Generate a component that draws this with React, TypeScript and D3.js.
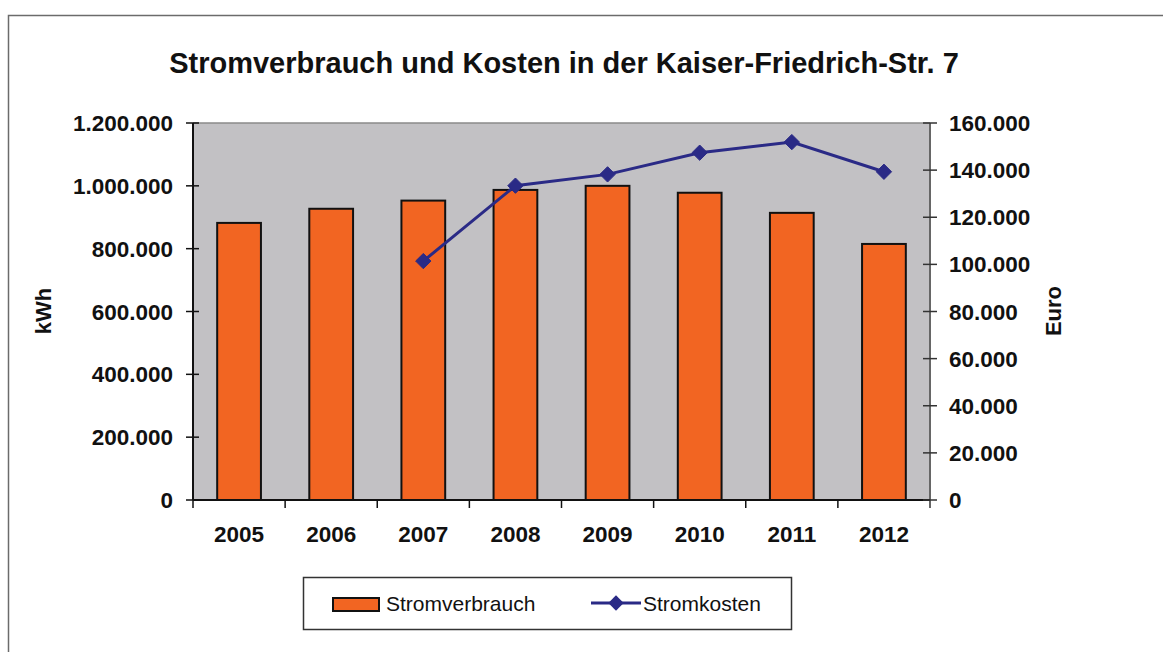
import * as d3 from 'd3'

const years = ['2005', '2006', '2007', '2008', '2009', '2010', '2011', '2012']
const stromverbrauch = [882000, 927000, 953000, 987000, 1000000, 978000, 914000, 815000]
const stromkosten: (number | null)[] = [null, null, 101400, 133400, 138200, 147400, 151900, 139300]
const kwhTicks = [0, 200000, 400000, 600000, 800000, 1000000, 1200000]
const euroTicks = [0, 20000, 40000, 60000, 80000, 100000, 120000, 140000, 160000]

const W = 1163
const H = 652
const plot = { left: 193, top: 123, right: 930, bottom: 500 }
const font = 'Arial, "Liberation Sans", sans-serif'
const fmt = (v: number) => d3.format(',')(v).replace(/,/g, '.')

export default function App() {
  const x = d3.scaleBand().domain(years).range([plot.left, plot.right]).paddingInner(0.525).paddingOuter(0.2625)
  const xb = d3.scaleBand().domain(years).range([plot.left, plot.right])
  const yL = d3.scaleLinear().domain([0, 1200000]).range([plot.bottom, plot.top])
  const yR = d3.scaleLinear().domain([0, 160000]).range([plot.bottom, plot.top])

  const linePts = years
    .map((yr, i) => ({ yr, v: stromkosten[i] }))
    .filter(d => d.v != null) as { yr: string; v: number }[]
  const line = d3.line<{ yr: string; v: number }>()
    .x(d => (xb(d.yr) ?? 0) + xb.bandwidth() / 2)
    .y(d => yR(d.v))

  const diamond = d3.symbol().type(d3.symbolDiamond2).size(150)()
  const navy = '#2a2a86'
  const orange = '#f26522'

  return (
    <svg width={W} height={H} style={{ position: 'absolute', left: 0, top: 0, background: '#fff' }} fontFamily={font}>
      <rect x={8.5} y={15.5} width={W} height={H} fill="#fff" stroke="#6b6b6b" strokeWidth={1.5} />
      <text x={564} y={73} textAnchor="middle" fontSize={29} fontWeight="bold" fill="#111">
        Stromverbrauch und Kosten in der Kaiser-Friedrich-Str. 7
      </text>

      <rect x={plot.left} y={plot.top} width={plot.right - plot.left} height={plot.bottom - plot.top} fill="#c2c1c4" />
      <line x1={plot.left} x2={plot.right} y1={plot.top} y2={plot.top} stroke="#8a8a8a" strokeWidth={1.5} />

      {years.map((yr, i) => (
        <rect
          key={yr}
          x={x(yr)}
          y={yL(stromverbrauch[i])}
          width={x.bandwidth()}
          height={plot.bottom - yL(stromverbrauch[i])}
          fill={orange}
          stroke="#111"
          strokeWidth={2}
        />
      ))}

      {/* axes */}
      <line x1={plot.left} x2={plot.left} y1={plot.top} y2={plot.bottom} stroke="#111" strokeWidth={2} />
      <line x1={plot.right} x2={plot.right} y1={plot.top} y2={plot.bottom + 8} stroke="#666" strokeWidth={2} />
      <line x1={plot.left} x2={plot.right} y1={plot.bottom} y2={plot.bottom} stroke="#111" strokeWidth={2} />

      {kwhTicks.map(t => (
        <g key={t}>
          <line x1={plot.left - 7} x2={plot.left + 6} y1={yL(t)} y2={yL(t)} stroke="#111" strokeWidth={1.5} />
          <text x={173} y={yL(t)} dy="0.36em" textAnchor="end" fontSize={22.5} fontWeight="bold" fill="#111">
            {fmt(t)}
          </text>
        </g>
      ))}
      {euroTicks.map(t => (
        <g key={t}>
          <line x1={plot.right - 7} x2={plot.right + 7} y1={yR(t)} y2={yR(t)} stroke="#333" strokeWidth={1.5} />
          <text x={949} y={yR(t)} dy="0.36em" textAnchor="start" fontSize={22.5} fontWeight="bold" fill="#111">
            {fmt(t)}
          </text>
        </g>
      ))}
      {years.map(yr => xb(yr) ?? 0).map((px, i) => (
        <line key={i} x1={px} x2={px} y1={plot.bottom} y2={plot.bottom + 8} stroke="#111" strokeWidth={1.5} />
      ))}
      {years.map(yr => (
        <text key={yr} x={(xb(yr) ?? 0) + xb.bandwidth() / 2} y={542} textAnchor="middle" fontSize={22.5} fontWeight="bold" fill="#111">
          {yr}
        </text>
      ))}

      <text transform="translate(51,311) rotate(-90)" textAnchor="middle" fontSize={22} fontWeight="bold" fill="#111">kWh</text>
      <text transform="translate(1061,311) rotate(-90)" textAnchor="middle" fontSize={22} fontWeight="bold" fill="#111">Euro</text>

      <path d={line(linePts) ?? ''} fill="none" stroke={navy} strokeWidth={3} />
      {linePts.map(d => (
        <path
          key={d.yr}
          d={diamond ?? ''}
          transform={`translate(${(xb(d.yr) ?? 0) + xb.bandwidth() / 2},${yR(d.v)})`}
          fill={navy}
          stroke={navy}
          strokeWidth={1}
        />
      ))}

      {/* legend */}
      <rect x={303.5} y={577.5} width={488} height={52} fill="#fff" stroke="#333" strokeWidth={1.5} />
      <rect x={333} y={598} width={46} height={13} fill={orange} stroke="#111" strokeWidth={2} />
      <text x={386} y={611} fontSize={21} fill="#111">Stromverbrauch</text>
      <line x1={591} x2={641} y1={603} y2={603} stroke={navy} strokeWidth={3} />
      <path d={diamond ?? ''} transform="translate(616,603)" fill={navy} />
      <text x={643} y={611} fontSize={21} fill="#111">Stromkosten</text>
    </svg>
  )
}
